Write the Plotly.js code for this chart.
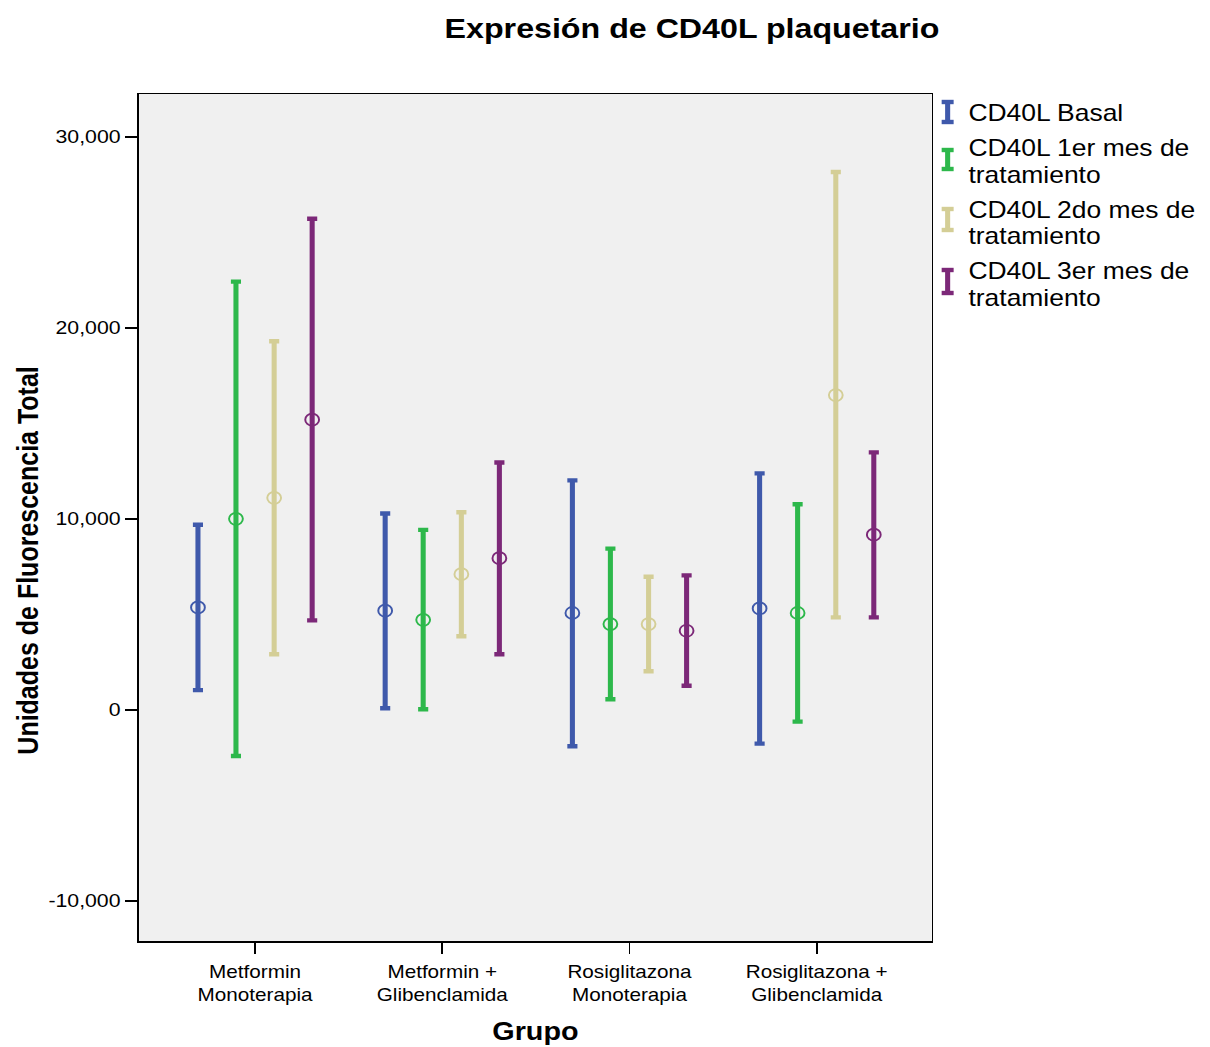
<!DOCTYPE html>
<html><head><meta charset="utf-8">
<script src="https://cdn.plot.ly/plotly-3.0.1.min.js"></script>
<style>
html,body{margin:0;padding:0;background:#fff;overflow:hidden}
#wrap{width:1210px;height:1047px;overflow:hidden;position:relative}
#chart{width:1052px;height:1047px;transform-origin:0 0}
</style>
</head><body><div id="wrap"><div id="chart"></div></div>
<script>
// ---- data ----
const groups = ["Metformin<br>Monoterapia", "Metformin +<br>Glibenclamida", "Rosiglitazona<br>Monoterapia", "Rosiglitazona +<br>Glibenclamida"];
const seriesNames = ["CD40L Basal", "CD40L 1er mes de tratamiento", "CD40L 2do mes de tratamiento", "CD40L 3er mes de tratamiento"];
const legendLabels = ["CD40L Basal", "CD40L 1er mes de<br>tratamiento", "CD40L 2do mes de<br>tratamiento", "CD40L 3er mes de<br>tratamiento"];
const colors = ["#3F59AB", "#2DB84B", "#D4CE96", "#7C2878"];

const basalMean  = [5370, 5200, 5080, 5320];
const basalLow   = [1040, 90, -1900, -1760];
const basalHigh  = [9700, 10290, 12020, 12390];

const mes1Mean = [10010, 4720, 4500, 5080];
const mes1Low  = [-2410, 40, 560, -610];
const mes1High = [22430, 9430, 8450, 10770];

const mes2Mean = [11110, 7110, 4500, 16490];
const mes2Low  = [2920, 3860, 2030, 4850];
const mes2High = [19310, 10350, 6980, 28170];

const mes3Mean = [15200, 7950, 4150, 9180];
const mes3Low  = [4690, 2920, 1270, 4850];
const mes3High = [25720, 12960, 7050, 13490];

const yTickVals = [-10000, 0, 10000, 20000, 30000];
const yTickText = ["-10,000", "0", "10,000", "20,000", "30,000"];

// ---- build ----
const W = 1210, H = 1047, W0 = 1052;
const sx = W / W0;
document.getElementById('chart').style.transform = 'scaleX(' + sx + ')';
const FONT = 'Arial, "Liberation Sans", sans-serif';

const means = [basalMean, mes1Mean, mes2Mean, mes3Mean];
const lows  = [basalLow, mes1Low, mes2Low, mes3Low];
const highs = [basalHigh, mes1High, mes2High, mes3High];
const offsets = [-0.305, -0.102, 0.102, 0.305];

const traces = means.map((m, s) => ({
  type: 'scatter', mode: 'markers', name: seriesNames[s], showlegend: false,
  x: m.map((v, i) => i + offsets[s]),
  y: m,
  marker: {symbol: 'circle-open', size: 12, color: colors[s], line: {width: 1.7, color: colors[s]}},
  error_y: {type: 'data', symmetric: false,
    array: m.map((v, i) => highs[s][i] - v),
    arrayminus: m.map((v, i) => v - lows[s][i]),
    color: colors[s], thickness: 4.4, width: 4.4},
  hoverinfo: 'skip'
}));

// plot area in final pixels: x 139..932, y 94..941
const pL = 139, pR = 932, pT = 94, pB = 941;
const px = x => (x - pL) / (pR - pL);
const py = y => (pB - y) / (pB - pT);

const legendIcon = [[100, 124], [148, 171], [207, 232], [268, 295]];
const legendLineY = [[113], [148, 175], [210, 236], [271, 298]];
const shapes = [], annotations = [];
legendLabels.forEach((lab, i) => {
  const cx = px(948), hw = 6 / (pR - pL);
  const [t, b] = legendIcon[i];
  shapes.push({type: 'line', xref: 'paper', yref: 'paper', x0: cx, x1: cx, y0: py(t), y1: py(b), line: {color: colors[i], width: 4.4}});
  shapes.push({type: 'line', xref: 'paper', yref: 'paper', x0: cx - hw, x1: cx + hw, y0: py(t + 2), y1: py(t + 2), line: {color: colors[i], width: 4.4}});
  shapes.push({type: 'line', xref: 'paper', yref: 'paper', x0: cx - hw, x1: cx + hw, y0: py(b - 2), y1: py(b - 2), line: {color: colors[i], width: 4.4}});
  lab.split('<br>').forEach((line, j) => {
    annotations.push({xref: 'paper', yref: 'paper', x: px(967), y: py(legendLineY[i][j]), xanchor: 'left', yanchor: 'middle', align: 'left',
      text: line, showarrow: false, font: {family: FONT, size: 23, color: '#000'}});
  });
});
annotations.push({xref: 'paper', yref: 'paper', x: px(27), y: py(560), xanchor: 'center', yanchor: 'middle', textangle: -90,
  text: '<b>Unidades de Fluorescencia Total</b>', showarrow: false, font: {family: FONT, size: 25, color: '#000'}});
annotations.push({xref: 'paper', yref: 'paper', x: px(535), y: py(1031), xanchor: 'center', yanchor: 'middle',
  text: '<b>Grupo</b>', showarrow: false, font: {family: FONT, size: 25, color: '#000'}});

const layout = {
  width: W0, height: H,
  margin: {l: pL / sx, r: (W - pR) / sx, t: pT, b: H - pB, pad: 0},
  paper_bgcolor: '#ffffff', plot_bgcolor: '#F0F0F0',
  title: {text: '<b>Expresión de CD40L plaquetario</b>', xref: 'container', yref: 'container', x: 692 / W, y: 1 - 28 / H,
    xanchor: 'center', yanchor: 'middle', font: {family: FONT, size: 28, color: '#000'}},
  xaxis: {range: [-0.619, 3.614], tickmode: 'array', tickvals: [0, 1, 2, 3], ticktext: groups,
    ticks: 'outside', ticklen: 11, tickwidth: 1.5, tickcolor: '#000', showline: true, mirror: true,
    linecolor: '#000', linewidth: 1.5, showgrid: false, zeroline: false, ticklabelstandoff: 3,
    tickfont: {family: FONT, size: 18, color: '#000'}},
  yaxis: {range: [-12094, 32251], tickmode: 'array', tickvals: yTickVals, ticktext: yTickText,
    ticks: 'outside', ticklen: 11, tickwidth: 1.5, tickcolor: '#000', showline: true, mirror: true,
    linecolor: '#000', linewidth: 1.5, showgrid: false, zeroline: false,
    tickfont: {family: FONT, size: 18.5, color: '#000'}},
  shapes: shapes, annotations: annotations, showlegend: false
};
Plotly.newPlot('chart', traces, layout, {displayModeBar: false, staticPlot: true});
</script>
</body></html>
